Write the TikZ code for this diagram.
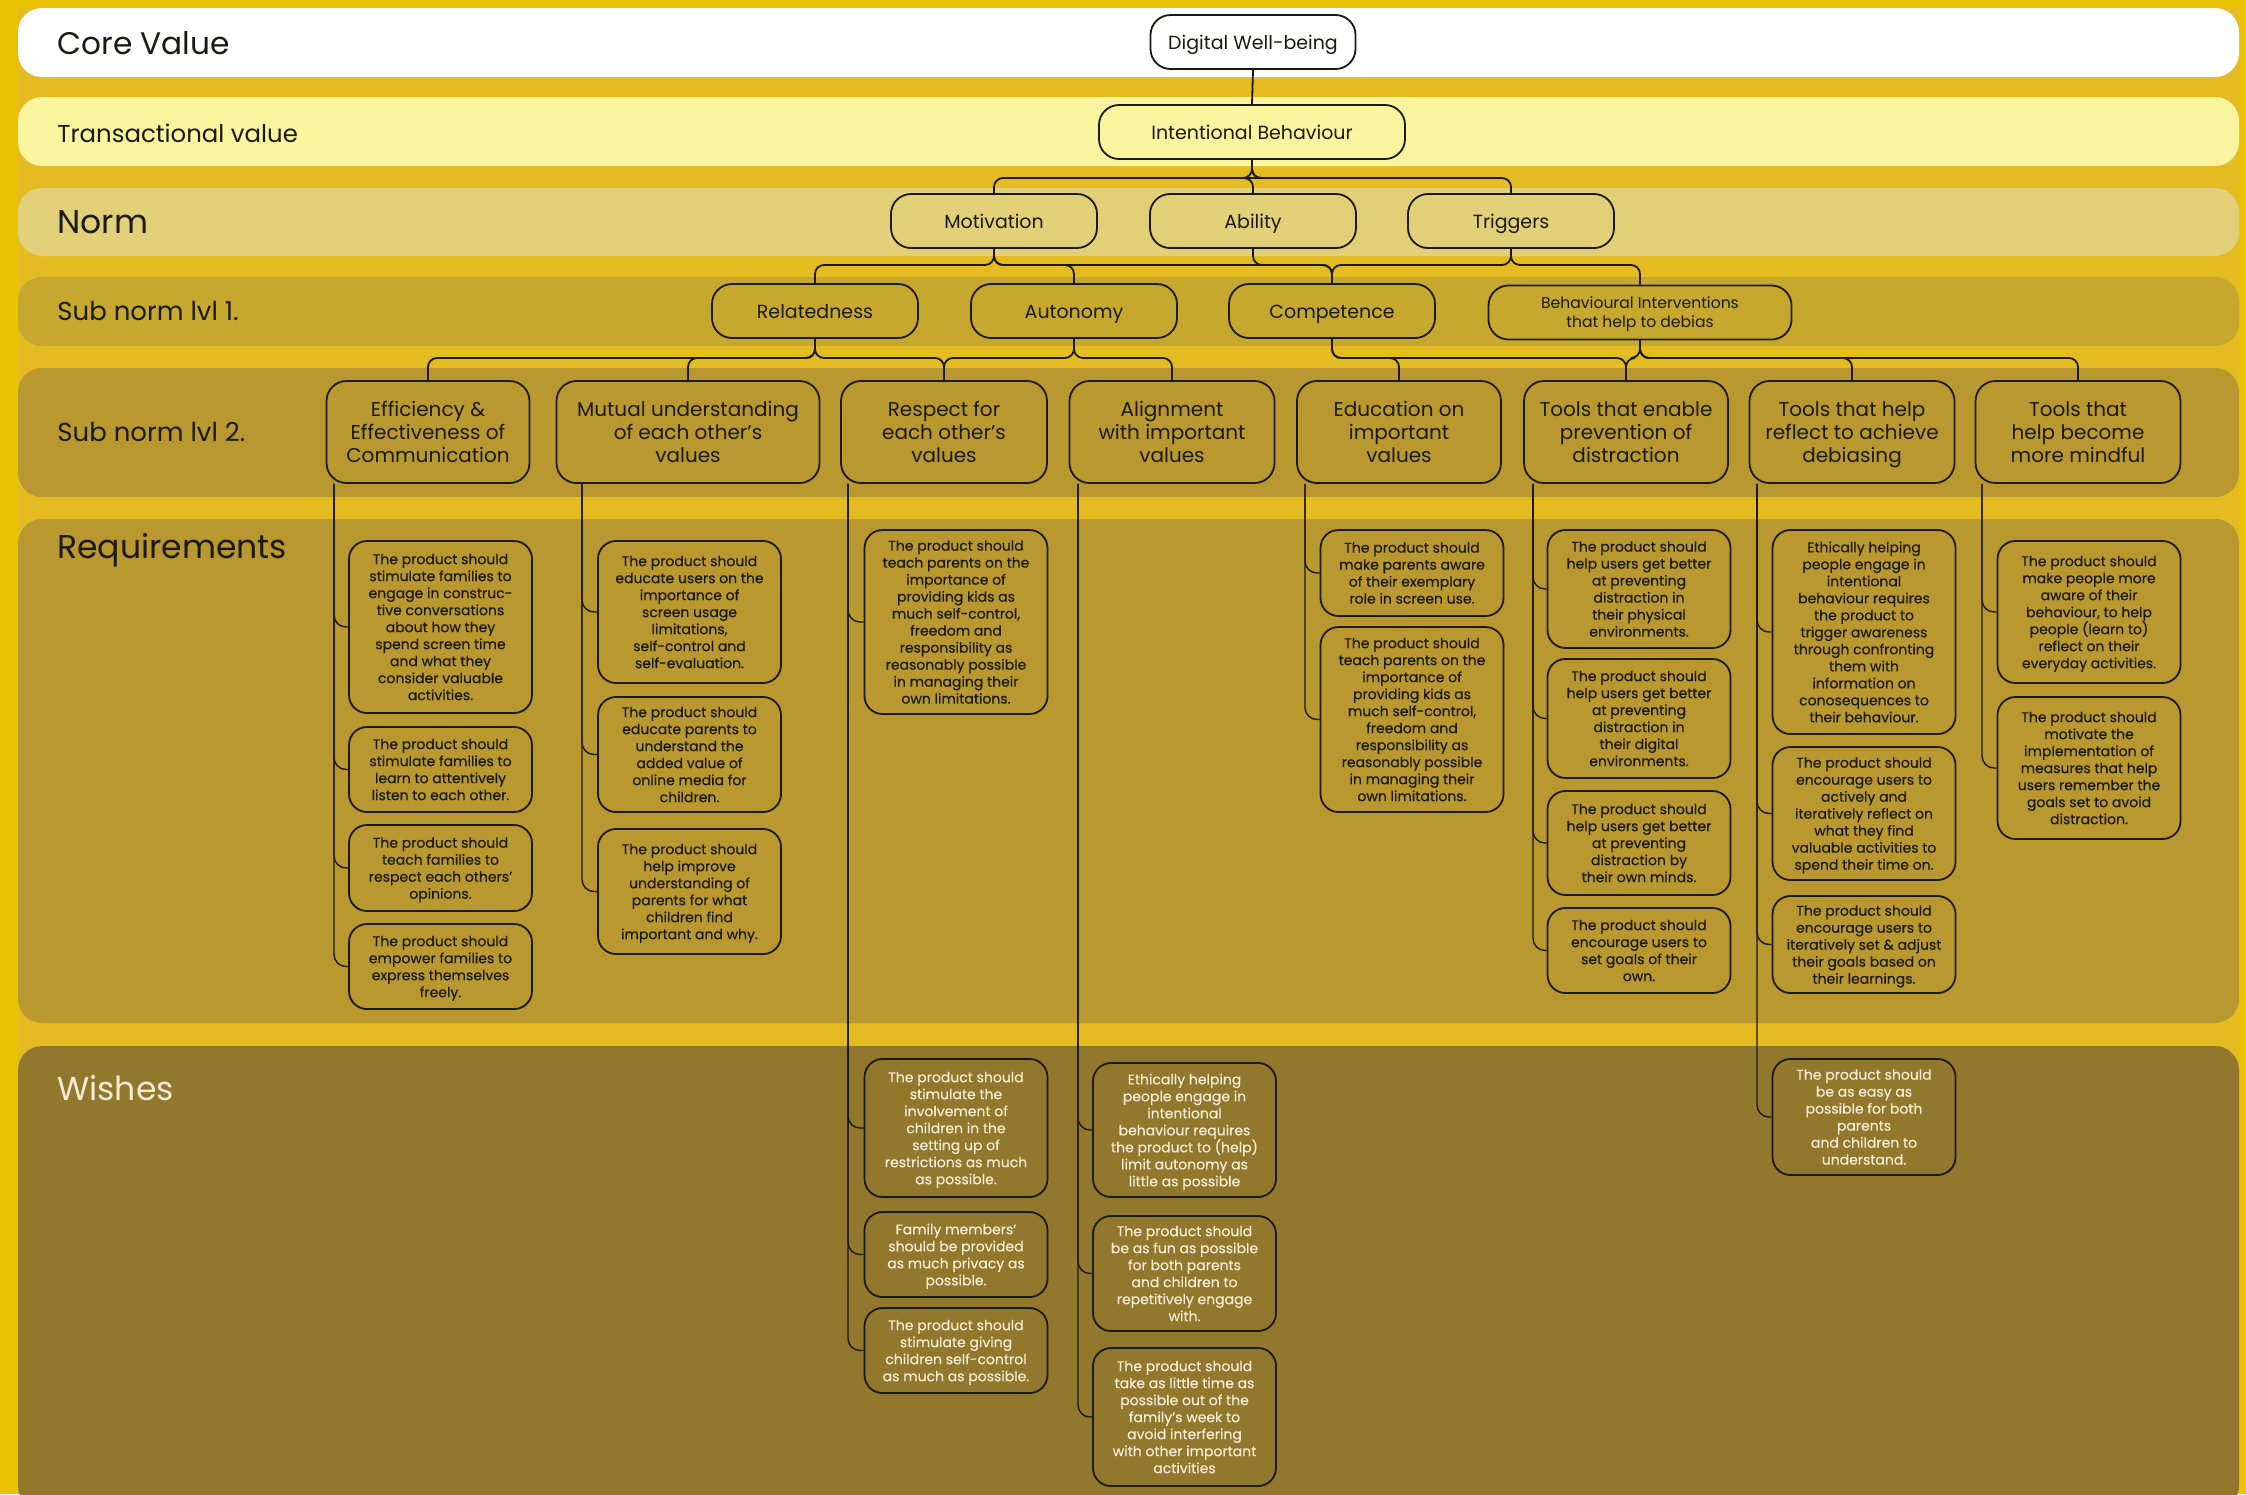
\documentclass[tikz,border=0pt]{standalone}
\usepackage{fontspec}
\setmainfont{Poppins}
\newfontfamily\bodyfont{Poppins}[FakeBold=0.25]
\usetikzlibrary{calc}
\pgfdeclarelayer{bands}
\pgfdeclarelayer{wires}
\pgfsetlayers{bands,wires,main}

\definecolor{outer}{HTML}{EAC200}
\definecolor{gapfill}{HTML}{E4BC22}
\definecolor{bandcore}{HTML}{FFFFFF}
\definecolor{bandtrans}{HTML}{FAF49E}
\definecolor{bandnorm}{HTML}{E1D077}
\definecolor{bandsubA}{HTML}{C6A82E}
\definecolor{bandsubB}{HTML}{B9992F}
\definecolor{bandreq}{HTML}{B8982F}
\definecolor{bandwish}{HTML}{91782D}
\definecolor{ink}{HTML}{1A1A12}
\definecolor{cream}{HTML}{F4EDD6}

\newcommand\reqfont{\bodyfont\fontsize{7}{8.5}\selectfont}
% struts that keep one-line labels at a fixed height/depth
\newcommand\topstrut{\rule{0pt}{\dimexpr0.7\baselineskip+2.6pt\relax}}
\newcommand\botstrut{\rule[-0.3\baselineskip]{0pt}{0pt}}
% last line set without depth, so descenders do not lift the block
\newcommand\nodepth[1]{\raisebox{0pt}[\height][0pt]{#1}}
% vertical feeder line from a sub-norm box down to a requirement/wish box
\newcommand\tap[3]{\draw[tapline] (#1.south -| #2) |- (#3.west);}
% tree branch: parent -> bar level -> child
\newcommand\branch[3]{\draw[wire] (#1.south) -- (#1.south |- #3) -- (#2.north |- #3) -- (#2.north);}

\begin{document}
\begin{tikzpicture}[x=0.5pt, y=-0.5pt,
  band/.style={rounded corners=12pt},
  biglabel/.style={anchor=base west, inner sep=0pt, text=ink, font=\fontsize{16.5}{18}\selectfont},
  midlabel/.style={anchor=base west, inner sep=0pt, text=ink, font=\fontsize{13}{15}\selectfont},
  box/.style={draw=ink, line width=0.9pt, rounded corners=10pt, inner sep=0pt,
    align=center, text=ink},
  lvl/.style={box, minimum height=27pt, font=\fontsize{9.5}{11}\selectfont,
    execute at begin node=\topstrut, execute at end node=\botstrut},
  twoline/.style={box, minimum height=27pt},
  subbox/.style={box, minimum height=51pt, fill=bandsubB, font=\fontsize{10}{11.5}\selectfont},
  req/.style={box, rounded corners=9pt, minimum width=91.5pt, fill=bandreq, font=\reqfont},
  wish/.style={req, fill=bandwish, text=cream},
  wire/.style={draw=ink, line width=0.9pt, rounded corners=4.5pt},
  tapline/.style={draw=ink, line width=0.7pt, rounded corners=6pt}]

\useasboundingbox (0,0) rectangle (2246,1494);

% ---------- horizontal bands ----------
\begin{pgfonlayer}{bands}
  \fill[outer] (0,0) rectangle (2246,1494);
  \fill[gapfill] (18,8) rectangle (2239,1494);
  \fill[bandcore, band] (18,8) rectangle (2239,77);
  \fill[bandtrans, band] (18,97) rectangle (2239,166);
  \fill[bandnorm, band] (18,188) rectangle (2239,256);
  \fill[bandsubA, band] (18,277) rectangle (2239,346);
  \fill[bandsubB, band] (18,368) rectangle (2239,497);
  \fill[bandreq, band] (18,519) rectangle (2239,1023);
  \fill[bandwish, band] (18,1046) rectangle (2239,1510);
\end{pgfonlayer}

% ---------- band labels ----------
\node[biglabel, font=\fontsize{15.6}{18}\selectfont] (labCore) at (57,54) {Core Value};
\node[midlabel, font=\fontsize{12.2}{14}\selectfont] (labTrans) at (57,142) {Transactional value};
\node[biglabel] (labNorm) at (57,233) {Norm};
\node[midlabel] (labSubA) at (57,320) {Sub norm lvl 1.};
\node[midlabel] (labSubB) at (57,441) {Sub norm lvl 2.};
\node[biglabel] (labReq) at (57,558) {Requirements};
\node[biglabel, text=cream] (labWish) at (57,1100) {Wishes};

% ---------- value tree ----------
\node[lvl, fill=bandcore, minimum width=102.5pt] (DW) at (1253,42) {Digital Well-being};
\node[lvl, fill=bandtrans, minimum width=153pt] (IB) at (1252,132) {Intentional Behaviour};

\node[lvl, fill=bandnorm, minimum width=103pt] (Mot) at (994,221) {Motivation};
\node[lvl, fill=bandnorm, minimum width=103pt] (Abi) at (1253,221) {Ability};
\node[lvl, fill=bandnorm, minimum width=103pt] (Trg) at (1511,221) {Triggers};

\node[lvl, fill=bandsubA, minimum width=103pt] (Rel) at (815,311) {Relatedness};
\node[lvl, fill=bandsubA, minimum width=103pt] (Aut) at (1074,311) {Autonomy};
\node[lvl, fill=bandsubA, minimum width=103pt] (Com) at (1332,311) {Competence};
\node[twoline, fill=bandsubA, minimum width=151.5pt, font=\fontsize{7.8}{9.5}\selectfont] (BI) at (1640,312.5)
  {Behavioural Interventions\\\nodepth{that help to debias}};

\node[subbox, minimum width=101.5pt] (Eff) at (428,432) {Efficiency \&\\Effectiveness of\\Communication};
\node[subbox, minimum width=131.5pt] (Mut) at (688,432) {Mutual understanding\\of each other’s\\values};
\node[subbox, minimum width=103pt] (Res) at (944,432) {Respect for\\each other’s\\values};
\node[subbox, minimum width=102.5pt] (Ali) at (1172,432) {Alignment\\with important\\values};
\node[subbox, minimum width=102pt] (Edu) at (1399,432) {Education on\\important\\values};
\node[subbox, minimum width=102pt] (Ten) at (1626,432) {Tools that enable\\prevention of\\distraction};
\node[subbox, minimum width=102.5pt] (Tre) at (1852,432) {Tools that help\\reflect to achieve\\\nodepth{debiasing}};
\node[subbox, minimum width=102.5pt] (Tmi) at (2078,432) {Tools that\\help become\\more mindful};

% bar levels of the tree connectors
\coordinate (barA) at (0,178);
\coordinate (barB) at (0,265);
\coordinate (barC) at (0,358);

% ---------- requirements ----------
\node[req, minimum height=86pt] (R1a) at (440.5,627) {The product should\\stimulate families to\\engage in construc-\\tive conversations\\about how they\\spend screen time\\and what they\\consider valuable\\activities.};
\node[req, minimum height=42.5pt] (R1b) at (440.5,769.5) {The product should\\stimulate families to\\learn to attentively\\listen to each other.};
\node[req, minimum height=43pt] (R1c) at (440.5,868) {The product should\\teach families to\\respect each others’\\\nodepth{opinions.}};
\node[req, minimum height=42.5pt] (R1d) at (440.5,966.5) {The product should\\empower families to\\express themselves\\\nodepth{freely.}};

\node[req, minimum height=71pt] (R2a) at (689.5,612) {The product should\\educate users on the\\importance of\\screen usage\\limitations,\\self-control and\\self-evaluation.};
\node[req, minimum height=57.5pt] (R2b) at (689.5,754.5) {The product should\\educate parents to\\understand the\\added value of\\online media for\\children.};
\node[req, minimum height=62.5pt] (R2c) at (689.5,891.5) {The product should\\help improve\\understanding of\\parents for what\\children find\\\nodepth{important and why.}};

\node[req, minimum height=92pt] (R3a) at (956,622) {The product should\\teach parents on the\\importance of\\providing kids as\\much self-control,\\freedom and\\responsibility as\\reasonably possible\\in managing their\\own limitations.};

\node[req, minimum height=43pt] (R5a) at (1412,573) {The product should\\make parents aware\\of their exemplary\\role in screen use.};
\node[req, minimum height=92.5pt] (R5b) at (1412,719.5) {The product should\\teach parents on the\\importance of\\providing kids as\\much self-control,\\freedom and\\responsibility as\\reasonably possible\\in managing their\\own limitations.};

\node[req, minimum height=59pt] (R6a) at (1639,589) {The product should\\help users get better\\at preventing\\distraction in\\their physical\\environments.};
\node[req, minimum height=59.5pt] (R6b) at (1639,718.5) {The product should\\help users get better\\at preventing\\distraction in\\their digital\\environments.};
\node[req, minimum height=52pt] (R6c) at (1639,843) {The product should\\help users get better\\at preventing\\distraction by\\their own minds.};
\node[req, minimum height=42.5pt] (R6d) at (1639,950.5) {The product should\\encourage users to\\set goals of their\\own.};

\node[req, minimum height=102pt] (R7a) at (1864,632) {Ethically helping\\people engage in\\intentional\\behaviour requires\\the product to\\trigger awareness\\through confronting\\them with\\information on\\conosequences to\\their behaviour.};
\node[req, minimum height=66.5pt] (R7b) at (1864,813.5) {The product should\\encourage users to\\actively and\\iteratively reflect on\\what they find\\valuable activities to\\\nodepth{spend their time on.}};
\node[req, minimum height=48.5pt] (R7c) at (1864,944.5) {The product should\\encourage users to\\iteratively set \& adjust\\their goals based on\\\nodepth{their learnings.}};

\node[req, minimum height=71pt] (R8a) at (2089,612) {The product should\\make people more\\aware of their\\behaviour, to help\\people (learn to)\\reflect on their\\\nodepth{everyday activities.}};
\node[req, minimum height=71pt] (R8b) at (2089,768) {The product should\\motivate the\\implementation of\\measures that help\\users remember the\\goals set to avoid\\distraction.};

% ---------- wishes ----------
\node[wish, minimum height=69pt] (W3a) at (956,1128) {The product should\\stimulate the\\involvement of\\children in the\\setting up of\\restrictions as much\\\nodepth{as possible.}};
\node[wish, minimum height=42.5pt] (W3b) at (956,1254.5) {Family members’\\should be provided\\as much privacy as\\\nodepth{possible.}};
\node[wish, minimum height=42.5pt] (W3c) at (956,1350.5) {The product should\\stimulate giving\\children self-control\\\nodepth{as much as possible.}};

\node[wish, minimum height=67pt] (W4a) at (1184.5,1130) {Ethically helping\\people engage in\\intentional\\behaviour requires\\the product to (help)\\limit autonomy as\\\nodepth{little as possible}};
\node[wish, minimum height=57.5pt] (W4b) at (1184.5,1273.5) {The product should\\be as fun as possible\\for both parents\\and children to\\repetitively engage\\with.};
\node[wish, minimum height=69pt] (W4c) at (1184.5,1417) {The product should\\take as little time as\\possible out of the\\family’s week to\\avoid interfering\\with other important\\activities};

\node[wish, minimum height=58pt] (W7a) at (1864,1117) {The product should\\be as easy as\\possible for both\\parents\\and children to\\understand.};

% feeder line positions
\coordinate (L1) at (334,600);
\coordinate (L2) at (582,600);
\coordinate (L3) at (848,600);
\coordinate (L4) at (1078,600);
\coordinate (L5) at (1305,600);
\coordinate (L6) at (1533,600);
\coordinate (L7) at (1757,600);
\coordinate (L8) at (1982,600);

% ---------- connectors ----------
\begin{pgfonlayer}{wires}
  \draw[wire] (DW.south) -- (IB.north);

  \branch{IB}{Mot}{barA}
  \branch{IB}{Abi}{barA}
  \branch{IB}{Trg}{barA}

  \branch{Mot}{Rel}{barB}
  \branch{Mot}{Aut}{barB}
  \branch{Mot}{Com}{barB}
  \branch{Abi}{Com}{barB}
  \branch{Trg}{Com}{barB}
  \branch{Trg}{BI}{barB}

  \branch{Rel}{Eff}{barC}
  \branch{Rel}{Mut}{barC}
  \branch{Rel}{Res}{barC}
  \branch{Aut}{Res}{barC}
  \branch{Aut}{Ali}{barC}
  \branch{Com}{Edu}{barC}
  \branch{Com}{Ten}{barC}
  \branch{BI}{Ten}{barC}
  \branch{BI}{Tre}{barC}
  \branch{BI}{Tmi}{barC}

  \tap{Eff}{L1}{R1a} \tap{Eff}{L1}{R1b} \tap{Eff}{L1}{R1c} \tap{Eff}{L1}{R1d}
  \tap{Mut}{L2}{R2a} \tap{Mut}{L2}{R2b} \tap{Mut}{L2}{R2c}
  \tap{Res}{L3}{R3a} \tap{Res}{L3}{W3a} \tap{Res}{L3}{W3b} \tap{Res}{L3}{W3c}
  \tap{Ali}{L4}{W4a} \tap{Ali}{L4}{W4b} \tap{Ali}{L4}{W4c}
  \tap{Edu}{L5}{R5a} \tap{Edu}{L5}{R5b}
  \tap{Ten}{L6}{R6a} \tap{Ten}{L6}{R6b} \tap{Ten}{L6}{R6c} \tap{Ten}{L6}{R6d}
  \tap{Tre}{L7}{R7a} \tap{Tre}{L7}{R7b} \tap{Tre}{L7}{R7c} \tap{Tre}{L7}{W7a}
  \tap{Tmi}{L8}{R8a} \tap{Tmi}{L8}{R8b}
\end{pgfonlayer}
\end{tikzpicture}
\end{document}
